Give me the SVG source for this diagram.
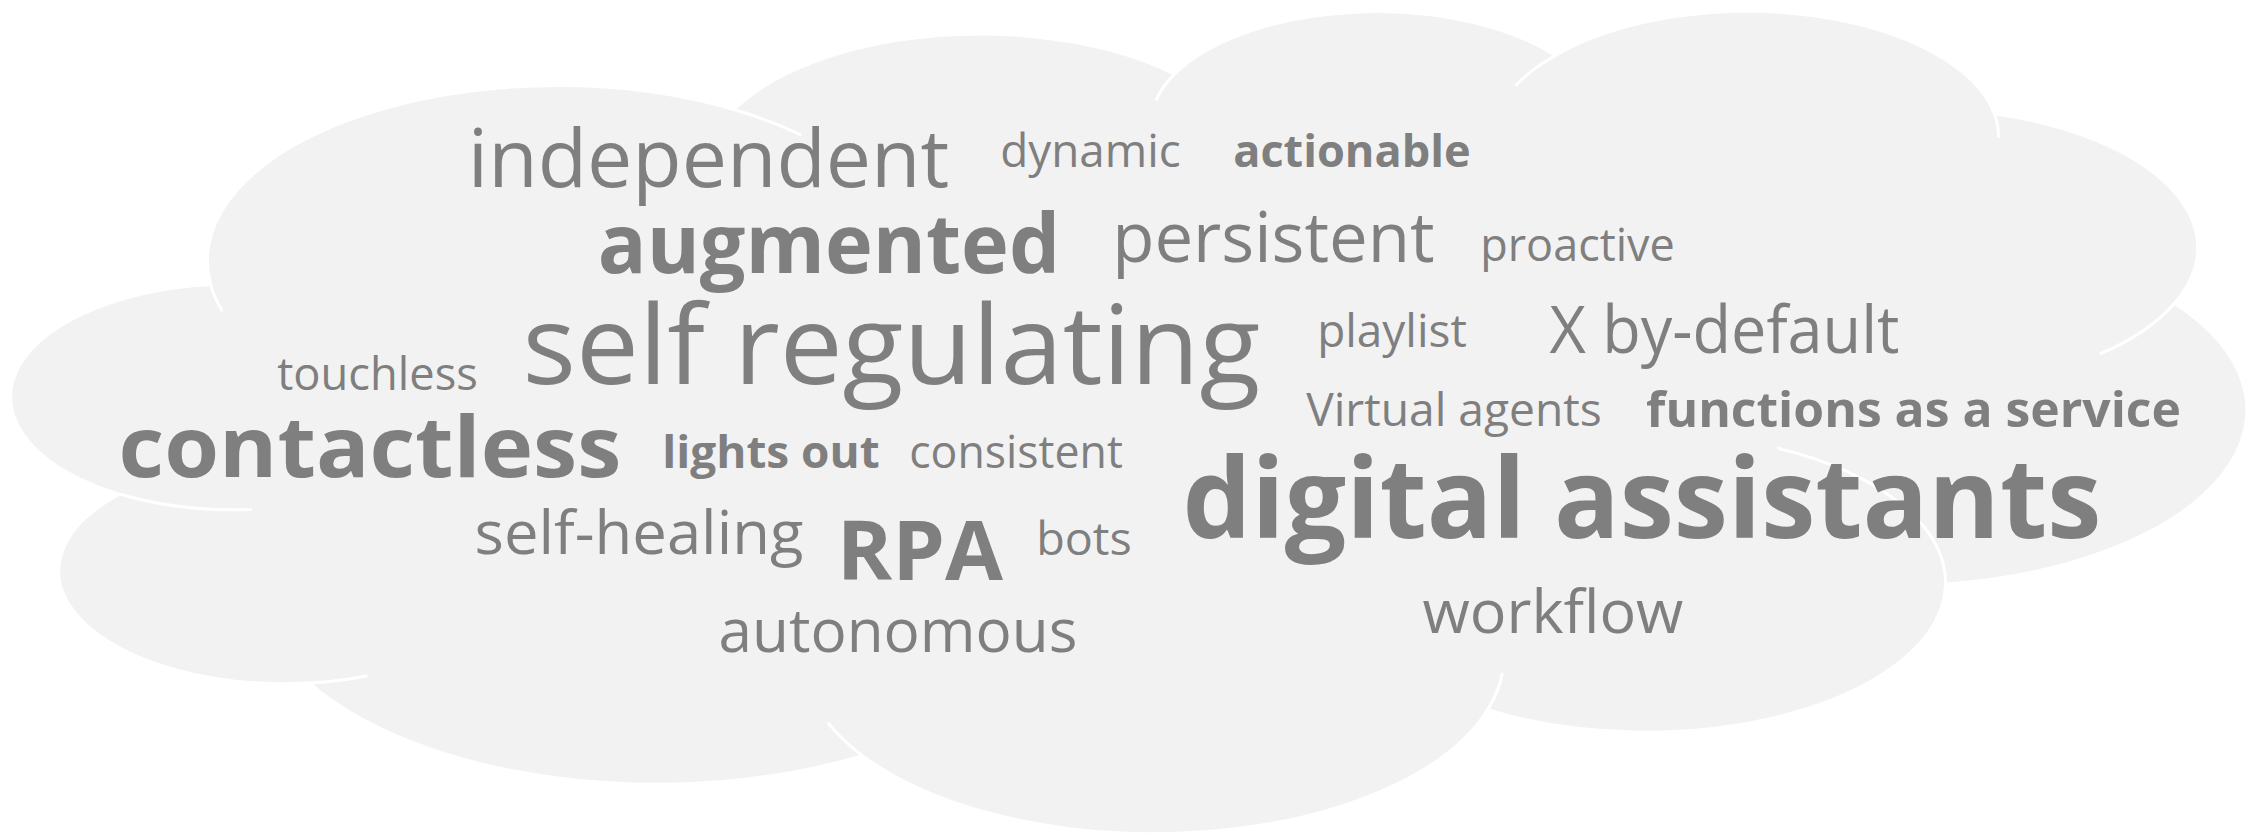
<svg xmlns="http://www.w3.org/2000/svg" width="2255" height="835" viewBox="0 0 2255 835">
<style>
.cloud{fill:#f2f2f2;stroke:#ffffff;stroke-width:3}
.arcs{fill:none;stroke:#ffffff;stroke-width:3}
.w{font-family:"Open Sans","Noto Sans","Liberation Sans",sans-serif;fill:#7f7f7f;font-weight:400}
.b{font-weight:700}
</style>
<rect x="0" y="0" width="2255" height="835" fill="#ffffff"/>
<g id="cloud" transform="translate(8.5,10.6) scale(0.05182,0.019058)">
<path class="cloud" vector-effect="non-scaling-stroke" d="M3900,14370 A6753,9190 0 0 1 14000,5192 A5333,7267 0 0 1 22500,3331 A4365,5945 0 0 1 29850,2355 A4857,6595 0 0 1 38324,5426 A5333,7273 0 0 1 41798,15354 A6775,9220 0 0 1 37380,30090 A5785,7867 0 0 1 28545,36680 A6752,9215 0 0 1 16478,39090 A7720,10543 0 0 1 5810,35288 A4360,5918 0 0 1 2144,25370 A4345,5945 0 0 1 3900,14370 Z"/>
<path class="arcs" vector-effect="non-scaling-stroke" d="M4693,26177 A4345,5945 0 0 1 2160,25380 M6928,34899 A4360,5918 0 0 1 5810,35288 M16478,39090 A6752,9215 0 0 1 15813,37359 M28827,34751 A6752,9215 0 0 1 28545,36680 M34129,22954 A5785,7867 0 0 1 37380,30090 M41798,15354 A5333,7273 0 0 1 40350,18030 M38324,5426 A4857,6595 0 0 1 38401,6690 M29078,3952 A4857,6595 0 0 1 29850,2355 M22141,4720 A4365,5945 0 0 1 22500,3331 M14000,5192 A6753,9190 0 0 1 15299,6539 M4127,15789 A6753,9190 0 0 1 3900,14370"/>
</g>
<g id="words">
<text id="w-independent" class="w" x="467.8" y="187" font-size="81" textLength="481.5" lengthAdjust="spacingAndGlyphs">independent</text>
<text id="w-dynamic" class="w" x="1000.2" y="167" font-size="45" textLength="180.6" lengthAdjust="spacingAndGlyphs">dynamic</text>
<text id="w-actionable" class="w b" x="1233.2" y="167" font-size="44" textLength="237.5" lengthAdjust="spacingAndGlyphs">actionable</text>
<text id="w-augmented" class="w b" x="597.8" y="273" font-size="82" textLength="462.3" lengthAdjust="spacingAndGlyphs">augmented</text>
<text id="w-persistent" class="w" x="1112.2" y="262" font-size="69" textLength="322.5" lengthAdjust="spacingAndGlyphs">persistent</text>
<text id="w-proactive" class="w" x="1480.2" y="261" font-size="45" textLength="194.6" lengthAdjust="spacingAndGlyphs">proactive</text>
<text id="w-self-regulating" class="w" x="522.6" y="384" font-size="110" textLength="737.8" lengthAdjust="spacingAndGlyphs">self regulating</text>
<text id="w-playlist" class="w" x="1317.2" y="347" font-size="45" textLength="149.6" lengthAdjust="spacingAndGlyphs">playlist</text>
<text id="w-x-by-default" class="w" x="1549.5" y="353" font-size="65" textLength="350" lengthAdjust="spacingAndGlyphs">X by-default</text>
<text id="w-touchless" class="w" x="277.2" y="390" font-size="45" textLength="200.6" lengthAdjust="spacingAndGlyphs">touchless</text>
<text id="w-virtual-agents" class="w" x="1306.2" y="426" font-size="45" textLength="295.6" lengthAdjust="spacingAndGlyphs">Virtual agents</text>
<text id="w-faas" class="w b" x="1646.1" y="427" font-size="48" textLength="534.8" lengthAdjust="spacingAndGlyphs">functions as a service</text>
<text id="w-contactless" class="w b" x="118.6" y="477" font-size="84" textLength="502.7" lengthAdjust="spacingAndGlyphs">contactless</text>
<text id="w-lights-out" class="w b" x="662.2" y="468" font-size="44" textLength="217.5" lengthAdjust="spacingAndGlyphs">lights out</text>
<text id="w-consistent" class="w" x="909.2" y="468" font-size="45" textLength="213.6" lengthAdjust="spacingAndGlyphs">consistent</text>
<text id="w-digital-assistants" class="w b" x="1182.6" y="538" font-size="112" textLength="918.7" lengthAdjust="spacingAndGlyphs">digital assistants</text>
<text id="w-self-healing" class="w" x="474.6" y="554" font-size="60" textLength="328.8" lengthAdjust="spacingAndGlyphs">self-healing</text>
<text id="w-rpa" class="w b" x="836.8" y="580" font-size="82" textLength="166.3" lengthAdjust="spacingAndGlyphs">RPA</text>
<text id="w-bots" class="w" x="1036.2" y="555" font-size="45" textLength="95.6" lengthAdjust="spacingAndGlyphs">bots</text>
<text id="w-workflow" class="w" x="1422.6" y="633" font-size="60" textLength="260.8" lengthAdjust="spacingAndGlyphs">workflow</text>
<text id="w-autonomous" class="w" x="718.6" y="652" font-size="60" textLength="358.8" lengthAdjust="spacingAndGlyphs">autonomous</text>
</g>
</svg>
